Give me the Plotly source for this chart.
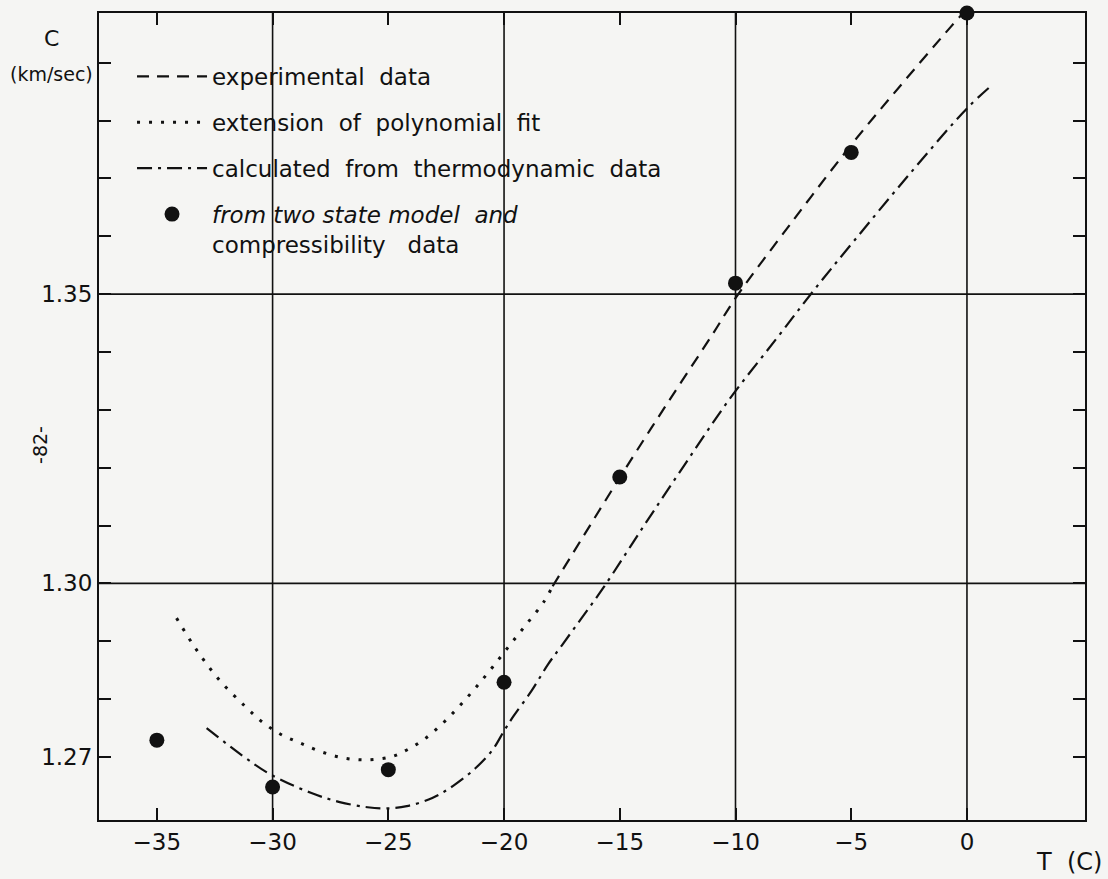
import plotly.graph_objects as go

# ---- data ----
exp_T = [-17.9, -15.0, -13.0, -11.0, -10.0, -7.5, -5.0, -3.2, -0.7, 0.0]
exp_C = [1.2995, 1.3183, 1.3308, 1.3430, 1.3493, 1.3628, 1.3758, 1.3845, 1.3962, 1.3993]

poly_T = [-34.15, -33.3, -32.3, -31.2, -30.4, -29.6, -28.8, -27.9, -26.9, -25.9, -24.9,
          -24.2, -23.4, -22.6, -21.9, -21.2, -20.5, -19.7, -19.0, -18.3, -17.9]
poly_C = [1.2940, 1.2886, 1.2833, 1.2788, 1.2759, 1.2738, 1.2724, 1.2709, 1.2698, 1.2695, 1.2700,
          1.2712, 1.2732, 1.2760, 1.2789, 1.2821, 1.2855, 1.2896, 1.2931, 1.2967, 1.2995]

thermo_T = [-32.85, -31.3, -30.1, -28.35, -27.1, -25.9, -25.1, -24.2, -23.1, -22.2, -21.25, -20.5,
            -20.0, -19.6, -18.8, -18.1, -17.5, -16.65, -15.7, -14.0, -12.2, -10.25, -8.25, -6.65,
            -4.9, -2.45, 0.0, 1.1]
thermo_C = [1.2750, 1.2702, 1.2670, 1.2638, 1.2622, 1.2613, 1.2611, 1.2615, 1.2629, 1.2650, 1.2680, 1.2712,
            1.2745, 1.2770, 1.2815, 1.2860, 1.2893, 1.2940, 1.2993, 1.3097, 1.3205, 1.3319, 1.3422, 1.3505,
            1.3591, 1.3709, 1.3821, 1.3862]

model_T = [-35, -30, -25, -20, -15, -10, -5, 0]
model_C = [1.2729, 1.2648, 1.2678, 1.2829, 1.3184, 1.3519, 1.3745, 1.3986]

x_ticks = [-35, -30, -25, -20, -15, -10, -5, 0]
y_ticks = [1.27, 1.28, 1.29, 1.30, 1.31, 1.32, 1.33, 1.34, 1.35, 1.36, 1.37, 1.38, 1.39]
y_labels = ["1.27", "", "", "1.30", "", "", "", "", "1.35", "", "", "", ""]
grid_T = [-30, -20, -10, 0]
grid_C = [1.30, 1.35]

NB = "\u00a0"
names = [
    "experimental" + NB + NB + "data",
    "extension" + NB + NB + "of" + NB + NB + "polynomial" + NB + NB + "fit",
    "calculated" + NB + NB + "from" + NB + NB + "thermodynamic" + NB + NB + "data",
    "<i>from" + NB + "two" + NB + "state" + NB + "model" + NB + NB + "and</i><br>compressibility" + NB + NB + NB + "data",
]

FONT = "DejaVu Sans"
INK = "#111111"
BG = "#f5f5f3"

fig = go.Figure()
fig.add_trace(go.Scatter(x=exp_T, y=exp_C, mode="lines", name=names[0], legendgroup="a",
                         line=dict(color=INK, width=2.2, dash="12px,8px", shape="spline", smoothing=1.0)))
fig.add_trace(go.Scatter(x=poly_T, y=poly_C, mode="lines", name=names[1], legendgroup="b",
                         line=dict(color=INK, width=3, dash="3px,9px", shape="spline", smoothing=1.0)))
fig.add_trace(go.Scatter(x=thermo_T, y=thermo_C, mode="lines", name=names[2], legendgroup="c",
                         line=dict(color=INK, width=2.2, dash="15px,6px,3px,6px", shape="spline", smoothing=1.0)))
fig.add_trace(go.Scatter(x=model_T, y=model_C, mode="markers", name=names[3], legendgroup="d",
                         marker=dict(color=INK, size=15), cliponaxis=False))

shapes = []
for t in grid_T:
    shapes.append(dict(type="line", xref="x", yref="paper", x0=t, x1=t, y0=0, y1=1,
                       line=dict(color=INK, width=1.6), layer="below"))
for c in grid_C:
    shapes.append(dict(type="line", xref="paper", yref="y", x0=0, x1=1, y0=c, y1=c,
                       line=dict(color=INK, width=1.6), layer="below"))

def note(text, x, y, size, angle=0):
    return dict(text=text, x=x, y=y, xref="paper", yref="paper", showarrow=False,
                xanchor="center", yanchor="middle", textangle=angle,
                font=dict(family=FONT, size=size, color=INK))

annotations = [
    note("C", -0.0477, 0.969, 22),
    note("(km/sec)", -0.0477, 0.9246, 19),
    note("T" + NB + NB + "(C)", 0.9840, -0.052, 24),
    note("-82-", -0.0598, 0.4648, 19, -90),
]

fig.update_layout(
    width=1108, height=879,
    margin=dict(l=99, r=23, t=11, b=59),
    paper_bgcolor=BG, plot_bgcolor=BG,
    font=dict(family=FONT, color=INK),
    shapes=shapes, annotations=annotations,
    showlegend=True,
    legend=dict(x=0.0335, y=0.948, xanchor="left", yanchor="top",
                bgcolor="rgba(0,0,0,0)", borderwidth=0,
                font=dict(family=FONT, size=23, color=INK),
                itemwidth=70, tracegroupgap=13, valign="top", traceorder="grouped"),
    xaxis=dict(range=[-37.5, 5.1], tickmode="array", tickvals=x_ticks,
               ticks="inside", ticklen=12, tickwidth=1.6, tickcolor=INK,
               showline=True, linecolor=INK, linewidth=2, mirror="allticks",
               showgrid=False, zeroline=False,
               tickfont=dict(family=FONT, size=23, color=INK)),
    yaxis=dict(range=[1.2591, 1.3986], tickmode="array", tickvals=y_ticks, ticktext=y_labels,
               ticks="inside", ticklen=12, tickwidth=1.6, tickcolor=INK,
               showline=True, linecolor=INK, linewidth=2, mirror="allticks",
               showgrid=False, zeroline=False,
               tickfont=dict(family=FONT, size=23, color=INK)),
)

fig.write_html("out.html")
